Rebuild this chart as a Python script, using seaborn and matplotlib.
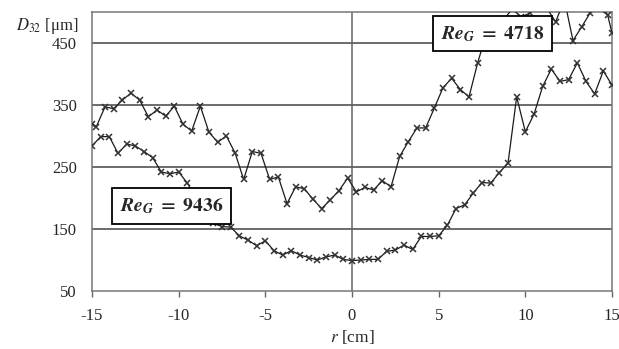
import numpy as np
import pandas as pd
import matplotlib
matplotlib.use("Agg")
import matplotlib.pyplot as plt
import seaborn as sns

# ---- data ----
r_4718 = [-15, -14.75, -14.25, -13.75, -13.25, -12.75, -12.25, -11.75, -11.25, -10.75,
          -10.25, -9.75, -9.25, -8.75, -8.25, -7.75, -7.25, -6.75, -6.25, -5.75,
          -5.25, -4.75, -4.25, -3.75, -3.25, -2.75, -2.25, -1.75, -1.25, -0.75,
          -0.25, 0.25, 0.75, 1.25, 1.75, 2.25, 2.75, 3.25, 3.75, 4.25,
          4.75, 5.25, 5.75, 6.25, 6.75, 7.25, 7.75, 8.25, 8.75, 9.25,
          9.75, 10.25, 10.75, 11.25, 11.75, 12.25, 12.75, 13.25, 13.75, 14.25,
          14.75, 15]
d_4718 = [320, 315, 347, 344, 358, 369, 358, 331, 342, 332,
          348, 319, 308, 348, 306, 290, 300, 273, 230, 275,
          272, 230, 234, 191, 218, 215, 198, 183, 197, 212,
          232, 210, 217, 213, 228, 218, 267, 291, 313, 313,
          345, 378, 393, 375, 363, 418, 465, 478, 488, 505,
          492, 498, 510, 506, 484, 520, 454, 476, 499, 506,
          495, 466]

r_9436 = [-15, -14.5, -14, -13.5, -13, -12.5, -12, -11.5, -11, -10.5,
          -10, -9.5, -9, -8.5, -8, -7.5, -7, -6.5, -6, -5.5,
          -5, -4.5, -4, -3.5, -3, -2.5, -2, -1.5, -1, -0.5,
          0, 0.5, 1, 1.5, 2, 2.5, 3, 3.5, 4, 4.5,
          5, 5.5, 6, 6.5, 7, 7.5, 8, 8.5, 9, 9.5,
          10, 10.5, 11, 11.5, 12, 12.5, 13, 13.5, 14, 14.5, 15]
d_9436 = [284, 299, 299, 272, 287, 284, 275, 265, 242, 239,
          242, 224, 200, 178, 159, 154, 153, 139, 132, 123,
          131, 115, 108, 115, 108, 104, 100, 105, 108, 101,
          99, 100, 101, 101, 114, 116, 124, 117, 138, 138,
          139, 156, 183, 189, 208, 225, 224, 241, 256, 363,
          307, 335, 380, 408, 388, 391, 418, 388, 368, 405, 382]

x_ticks = [-15, -10, -5, 0, 5, 10, 15]
y_ticks = [50, 150, 250, 350, 450]
x_ticklabels = ["-15", "-10", "-5", "0", "5", "10", "15"]
y_ticklabels = ["50", "150", "250", "350", "450"]

# ---- style ----
sns.set_style("white")
plt.rcParams["font.family"] = ["Liberation Serif", "DejaVu Serif"]
plt.rcParams["mathtext.fontset"] = "stix"
plt.rcParams["axes.unicode_minus"] = False

W, H = 619, 349
fig = plt.figure(figsize=(W / 100, H / 100), dpi=100)
ax = fig.add_axes([92 / W, (H - 291) / H, 520 / W, 279 / H])

line_kw = dict(color="#1a1a1a", linewidth=0.9, marker="x", markersize=5,
               markeredgewidth=1.1, markeredgecolor="#333333",
               sort=False, estimator=None, zorder=3)
sns.lineplot(x=r_4718, y=d_4718, ax=ax, **line_kw)
sns.lineplot(x=r_9436, y=d_9436, ax=ax, **line_kw)

ax.set_xlim(-15, 15)
ax.set_ylim(50, 500)
ax.set_xticks(x_ticks)
ax.set_xticklabels(x_ticklabels)
ax.set_yticks(y_ticks)
ax.set_yticklabels(y_ticklabels)
ax.tick_params(axis="x", length=4, width=1, color="#666666", pad=8,
               labelsize=12, direction="out", bottom=True)
ax.tick_params(axis="y", length=0, pad=11, labelsize=12)

for yv in [150, 250, 350, 450]:
    ax.axhline(yv, color="#444444", linewidth=1.1, zorder=1)
ax.axvline(0, color="#666666", linewidth=1.1, zorder=1)
for s in ax.spines.values():
    s.set_color("#777777")
    s.set_linewidth(1.1)

ax.set_xlabel("")
ax.set_ylabel("")
fig.text(78 / W, 1 - 26 / H, r"$D_{32}$ [μm]", ha="right", va="center", fontsize=12)
fig.text(352 / W, 1 - 337 / H, r"$r$ [cm]", ha="center", va="center", fontsize=12.5)

box = dict(boxstyle="square,pad=0.4", facecolor="white", edgecolor="black", linewidth=1.3)
ax.text(8.1, 465, r"$\mathbfit{Re}_{\mathbfit{G}}\ \mathbf{=\ 4718}$", ha="center", va="center",
        fontsize=14, bbox=box, zorder=5)
ax.text(-10.4, 187, r"$\mathbfit{Re}_{\mathbfit{G}}\ \mathbf{=\ 9436}$", ha="center", va="center",
        fontsize=14, bbox=box, zorder=5)

fig.savefig("out.png", dpi=100)
